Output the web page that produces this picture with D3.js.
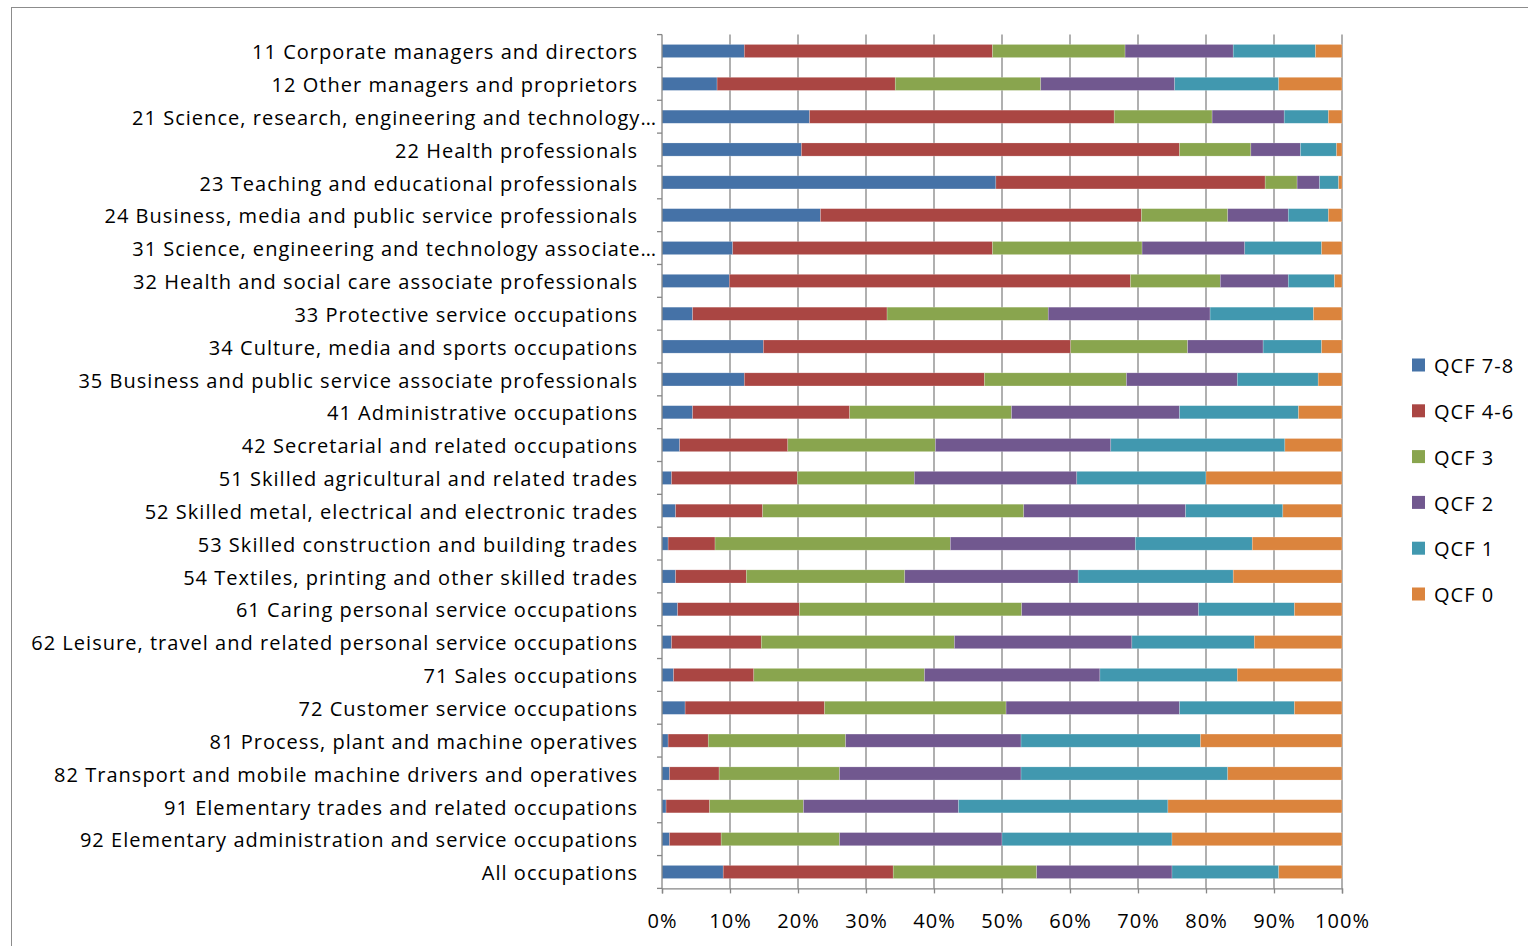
<!DOCTYPE html>
<html><head><meta charset="utf-8">
<script src="https://cdn.jsdelivr.net/npm/d3@7"></script>
<style>body{margin:0;background:#fff}svg{display:block}text{font-family:"Open Sans","Liberation Sans",Arial,sans-serif;fill:#000}</style>
</head><body><svg id="c" width="1528" height="946"></svg>
<script>
const categories = [
"11 Corporate managers and directors",
"12 Other managers and proprietors",
"21 Science, research, engineering and technology…",
"22 Health professionals",
"23 Teaching and educational professionals",
"24 Business, media and public service professionals",
"31 Science, engineering and technology associate…",
"32 Health and social care associate professionals",
"33 Protective service occupations",
"34 Culture, media and sports occupations",
"35 Business and public service associate professionals",
"41 Administrative occupations",
"42 Secretarial and related occupations",
"51 Skilled agricultural and related trades",
"52 Skilled metal, electrical and electronic trades",
"53 Skilled construction and building trades",
"54 Textiles, printing and other skilled trades",
"61 Caring personal service occupations",
"62 Leisure, travel and related personal service occupations",
"71 Sales occupations",
"72 Customer service occupations",
"81 Process, plant and machine operatives",
"82 Transport and mobile machine drivers and operatives",
"91 Elementary trades and related occupations",
"92 Elementary administration and service occupations",
"All occupations"];
const seriesNames = ["QCF 7-8","QCF 4-6","QCF 3","QCF 2","QCF 1","QCF 0"];
const qcf78 = [12.1,8.1,21.7,20.5,49.1,23.3,10.4,9.9,4.5,14.9,12.1,4.5,2.6,1.4,2.0,0.9,2.0,2.3,1.4,1.7,3.4,0.9,1.1,0.6,1.1,9.0];
const qcf46 = [36.5,26.2,44.8,55.6,39.6,47.2,38.2,59.0,28.6,45.2,35.3,23.1,15.9,18.5,12.8,6.9,10.4,17.9,13.2,11.8,20.5,5.9,7.3,6.4,7.6,25.0];
const qcf3  = [19.5,21.4,14.4,10.5,4.7,12.7,22.0,13.2,23.7,17.2,20.9,23.8,21.7,17.2,38.4,34.6,23.3,32.7,28.4,25.1,26.7,20.2,17.7,13.8,17.4,21.1];
const qcf2  = [15.9,19.7,10.6,7.3,3.3,8.9,15.1,10.0,23.8,11.1,16.3,24.7,25.8,23.9,23.8,27.2,25.5,26.0,26.1,25.8,25.5,25.8,26.7,22.8,23.9,19.9];
const qcf1  = [12.1,15.3,6.5,5.3,2.8,5.9,11.3,6.8,15.2,8.6,11.9,17.5,25.6,19.0,14.3,17.2,22.8,14.1,18.0,20.2,16.9,26.4,30.4,30.8,25.0,15.7];
const qcf0  = [3.9,9.3,2.0,0.8,0.5,2.0,3.0,1.1,4.2,3.0,3.5,6.4,8.4,20.0,8.7,13.2,16.0,7.0,12.9,15.4,7.0,20.8,16.8,25.6,25.0,9.3];
const xTicks = [0,10,20,30,40,50,60,70,80,90,100];
const colors = ["#4572A7","#AA4643","#89A54E","#71588F","#4198AF","#DB843D"];

const seriesValues = [qcf78,qcf46,qcf3,qcf2,qcf1,qcf0];
const rows = categories.map((c,i)=>{const o={cat:c};seriesNames.forEach((s,j)=>o[s]=seriesValues[j][i]);return o;});
const stack = d3.stack().keys(seriesNames).offset(d3.stackOffsetExpand)(rows);

const svg = d3.select("#c");
const L=662,R=1342,T=34.6,B=888.4;
const FS=20, LS="1.03px";
const x = d3.scaleLinear().domain([0,1]).range([L,R]);
const y = d3.scaleBand().domain(categories).range([T,B]).paddingInner(0.6).paddingOuter(0.3);

svg.append("rect").attr("x",11.5).attr("y",7.5).attr("width",1540).attr("height",960).attr("fill","none").attr("stroke","#8c8c8c");

// gridlines
svg.append("g").selectAll("line").data(xTicks.slice(1)).join("line")
 .attr("x1",d=>x(d/100)).attr("x2",d=>x(d/100)).attr("y1",T).attr("y2",B)
 .attr("stroke","#868686").attr("stroke-width",1.3);

// bars
svg.append("g").selectAll("g").data(stack).join("g").attr("fill",(d,i)=>colors[i])
 .selectAll("rect").data(d=>d).join("rect")
 .attr("x",d=>x(d[0])).attr("width",d=>x(d[1])-x(d[0]))
 .attr("y",d=>y(d.data.cat)).attr("height",y.bandwidth())
 .attr("stroke","rgba(255,255,255,0.35)").attr("stroke-width",0.6);

// y axis line + ticks between categories
const ya = svg.append("g");
ya.append("line").attr("x1",L).attr("x2",L).attr("y1",T).attr("y2",B).attr("stroke","#868686").attr("stroke-width",1.3);
ya.selectAll("line.t").data(d3.range(categories.length+1)).join("line").attr("class","t")
 .attr("x1",L-5).attr("x2",L).attr("y1",i=>T+i*(B-T)/categories.length).attr("y2",i=>T+i*(B-T)/categories.length)
 .attr("stroke","#868686").attr("stroke-width",1.3);
ya.selectAll("text").data(categories).join("text")
 .attr("x",d=>d.endsWith("…")?657:638).attr("y",d=>y(d)+y.bandwidth()/2+1).attr("dy","0.36em")
 .attr("text-anchor","end").attr("font-size",FS).attr("letter-spacing",LS).text(d=>d);

// x axis
const xa = svg.append("g").attr("transform",`translate(0,${B})`)
 .call(d3.axisBottom(x).tickValues(xTicks.map(d=>d/100)).tickFormat(d=>Math.round(d*100)+"%").tickSize(5).tickPadding(20));
xa.select(".domain").attr("stroke","#868686").attr("stroke-width",1.3);
xa.selectAll(".tick line").attr("stroke","#868686").attr("stroke-width",1.3);
xa.selectAll(".tick text").attr("font-size",FS).attr("letter-spacing",LS).attr("font-family","Open Sans, Liberation Sans, Arial, sans-serif").attr("fill","#000");

// legend
const lg = svg.append("g");
seriesNames.forEach((s,i)=>{
 const cy = 365 + i*45.8;
 lg.append("rect").attr("x",1412).attr("y",cy-6.5).attr("width",13).attr("height",13).attr("fill",colors[i]);
 lg.append("text").attr("x",1434).attr("y",cy+1).attr("dy","0.36em").attr("font-size",FS).attr("letter-spacing",LS).text(s);
});
</script></body></html>
